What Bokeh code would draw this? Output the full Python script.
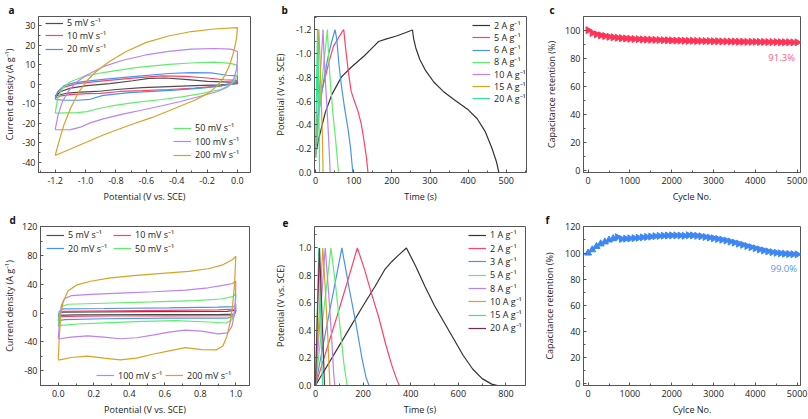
import numpy as np
from bokeh.plotting import figure
from bokeh.models import (Range1d, Legend, LegendItem, Label, SingleIntervalTicker,
                          PrintfTickFormatter)
from bokeh.layouts import row, column
from bokeh.embed import file_html
from bokeh.resources import INLINE

FONT = "Open Sans"
TXT = "#222222"
AX = "#555555"

GRAY = "#4d4d4d"; RED = "#ff4266"; BLUE = "#4a92f0"; GREEN = "#62ec6c"
PURPLE = "#b982f5"; GOLD = "#d8a224"; MINT = "#35e596"; MAROON = "#7a2a4c"

# ---------------- panel a : CV (negative electrode) ----------------
a_labels = ["5 mV s⁻¹", "10 mV s⁻¹", "20 mV s⁻¹", "50 mV s⁻¹", "100 mV s⁻¹", "200 mV s⁻¹"]
a_v_5 = [-1.2, -1.163, -1.099, -0.991, -0.841, -0.690, -0.583, -0.475, -0.346, -0.196, 0.0,
         0.0, -0.110, -0.282, -0.454, -0.626, -0.798, -0.927, -1.034, -1.120, -1.2]
a_i_5 = [-6.0, -3.7, -2.0, -0.7, 0.3, 1.8, 3.0, 3.2, 2.5, 1.5, 1.0,
         0.3, -0.3, -0.7, -1.2, -1.7, -2.7, -3.7, -4.0, -4.5, -6.0]
a_v_10 = [-1.2, -1.181, -1.142, -1.056, -0.884, -0.669, -0.497, -0.346, -0.196, -0.088, 0.0,
          0.0, -0.045, -0.131, -0.282, -0.454, -0.626, -0.776, -0.905, -0.991, -1.099, -1.163, -1.2]
a_i_10 = [-7.0, -3.7, -1.5, 0.3, 1.7, 3.3, 4.3, 4.0, 3.2, 2.3, 2.0,
          0.7, 0.0, -1.0, -2.0, -2.7, -3.3, -3.7, -4.7, -4.8, -5.3, -6.0, -7.0]
a_v_20 = [-1.2, -1.185, -1.142, -1.077, -0.991, -0.884, -0.669, -0.454, -0.303, -0.174, -0.067, 0.0,
          0.0, -0.024, -0.110, -0.239, -0.411, -0.561, -0.712, -0.884, -0.970, -1.056, -1.142, -1.2]
a_i_20 = [-7.7, -4.0, -0.7, 0.7, 1.6, 2.5, 4.0, 5.5, 6.0, 5.8, 4.6, 4.3,
          1.8, 0.7, -1.0, -2.0, -3.0, -3.7, -4.3, -5.7, -7.7, -8.2, -8.2, -7.7]
a_v_50 = [-1.2, -1.185, -1.153, -1.099, -1.013, -0.884, -0.669, -0.454, -0.282, -0.153, -0.045, 0.0,
          0.0, -0.013, -0.045, -0.110, -0.239, -0.368, -0.497, -0.669, -0.798, -0.905, -0.991, -1.056, -1.2]
a_i_50 = [-14.8, -7.7, -2.0, 1.3, 4.0, 6.0, 8.5, 10.2, 11.0, 11.3, 10.7, 9.7,
          5.2, 2.7, -0.3, -2.7, -4.8, -6.5, -7.8, -9.3, -10.7, -12.3, -14.0, -14.5, -14.8]
a_v_100 = [-1.2, -1.181, -1.153, -1.110, -1.056, -0.991, -0.884, -0.755, -0.604, -0.454, -0.303, -0.153, -0.045, 0.0,
           0.0, -0.006, -0.024, -0.067, -0.131, -0.239, -0.368, -0.497, -0.626, -0.755, -0.884, -0.970, -1.034, -1.099, -1.2]
a_i_100 = [-23.2, -15.7, -9.0, -3.2, 1.3, 4.7, 9.0, 12.3, 15.0, 16.8, 18.0, 18.3, 18.0, 16.8,
           12.7, 7.7, 2.7, -1.5, -3.7, -6.0, -8.7, -11.0, -13.2, -15.3, -17.7, -19.8, -22.0, -23.2, -23.3]
a_v_200 = [-1.2, -1.174, -1.142, -1.099, -1.045, -0.991, -0.927, -0.841, -0.733, -0.604, -0.454, -0.303, -0.153, 0.0,
           -0.006, -0.024, -0.049, -0.084, -0.131, -0.196, -0.282, -0.411, -0.561, -0.712, -0.884, -1.034, -1.2]
a_i_200 = [-36.5, -29.0, -20.7, -12.3, -4.0, 1.8, 6.8, 11.8, 16.8, 21.3, 24.7, 27.0, 28.3, 29.0,
           23.5, 16.8, 10.2, 4.3, -0.7, -4.8, -8.2, -12.3, -17.0, -21.0, -26.0, -31.0, -36.5]

# ---------------- panel b : GCD (negative electrode) ----------------
b_labels = ["2 A g⁻¹", "5 A g⁻¹", "6 A g⁻¹", "8 A g⁻¹", "10 A g⁻¹", "15 A g⁻¹", "20 A g⁻¹"]
b_t_2 = [0, 8.5, 25.4, 42.4, 67.8, 93.2, 127, 152.5, 165, 186, 212, 237, 250, 254,
         256.8, 262.7, 272.9, 288.1, 309.3, 334.7, 364.4, 398.3, 423.7, 444.9, 461.9, 474.6, 480.5]
b_e_2 = [-0.154, -0.289, -0.505, -0.654, -0.803, -0.884, -0.978, -1.059, -1.10, -1.122, -1.146, -1.176, -1.192, -1.197,
         -1.127, -1.046, -0.951, -0.857, -0.762, -0.681, -0.608, -0.532, -0.451, -0.343, -0.208, -0.086, 0.0]
b_t_5 = [0, 4.2, 12.7, 25.4, 38.1, 46.6, 59.3, 69.5, 73.7, 76.3, 80.5, 86.4, 93.2, 101.7, 111.9, 120.3, 127.1, 133.1, 137.3]
b_e_5 = [-0.181, -0.424, -0.641, -0.803, -0.965, -1.059, -1.127, -1.181, -1.2, -1.114, -0.992, -0.830, -0.681,
         -0.600, -0.505, -0.397, -0.262, -0.127, 0.0]
b_t_6 = [0, 8.5, 21.2, 33.9, 42.4, 50.8, 55.1, 61, 67.8, 76.3, 84.7, 91.5, 97.5]
b_e_6 = [-0.154, -0.505, -0.776, -0.992, -1.10, -1.2, -1.127, -0.911, -0.722, -0.532, -0.370, -0.208, 0.0]
b_t_8 = [0, 8.5, 21.2, 31, 33, 38, 45, 52, 60]
b_e_8 = [-0.127, -0.505, -0.911, -1.2, -1.046, -0.776, -0.505, -0.289, 0.0]
b_t_10 = [0, 6.8, 12.7, 19.5, 21.2, 25.4, 30.5, 35.6, 38.1]
b_e_10 = [-0.127, -0.505, -0.857, -1.2, -1.046, -0.776, -0.505, -0.181, 0.0]
b_t_15 = [0, 4.2, 8.5, 11, 14.4, 17.8, 19.5]
b_e_15 = [-0.127, -0.641, -1.2, -0.992, -0.641, -0.289, 0.0]
b_t_20 = [0, 2.5, 5, 7, 10.2]
b_e_20 = [-0.127, -0.776, -1.2, -0.911, 0.0]

# ---------------- panel c / f : cycling ----------------
cycles = [0, 100, 200, 300, 400, 500, 600, 700, 800, 900, 1000, 1100, 1200, 1300, 1400, 1500, 1600,
          1700, 1800, 1900, 2000, 2100, 2200, 2300, 2400, 2500, 2600, 2700, 2800, 2900, 3000, 3100,
          3200, 3300, 3400, 3500, 3600, 3700, 3800, 3900, 4000, 4100, 4200, 4300, 4400, 4500, 4600,
          4700, 4800, 4900, 5000]
c_retention = [100.0, 98.0, 97.0, 96.3, 95.8, 95.3, 94.9, 94.6, 94.3, 94.1, 93.9, 93.7, 93.6, 93.4,
               93.3, 93.2, 93.1, 93.0, 92.9, 92.8, 92.7, 92.6, 92.6, 92.5, 92.4, 92.4, 92.3, 92.3,
               92.2, 92.2, 92.1, 92.1, 92.0, 92.0, 91.9, 91.9, 91.8, 91.8, 91.7, 91.7, 91.7, 91.6,
               91.6, 91.5, 91.5, 91.5, 91.4, 91.4, 91.4, 91.3, 91.3]
f_retention = [100.0, 102.5, 105.0, 107.0, 108.5, 110.0, 111.0, 112.2, 110.8, 111.0, 111.2, 111.4,
               111.7, 112.0, 112.3, 112.6, 112.9, 113.1, 113.3, 113.4, 113.5, 113.5, 113.4, 113.2,
               113.6, 113.5, 113.2, 112.8, 112.3, 111.8, 111.3, 110.8, 110.2, 109.6, 108.8, 108.0,
               107.2, 106.3, 105.4, 104.5, 103.6, 102.8, 102.0, 101.3, 100.7, 100.2, 99.8, 99.5,
               99.3, 99.1, 99.0]
c_note = "91.3%"
f_note = "99.0%"

# ---------------- panel d : CV (positive electrode) ----------------
d_v_5 = [0.0, 0.01, 0.03, 0.5, 0.95, 1.0, 0.998, 0.99, 0.9, 0.5, 0.1, 0.0]
d_i_5 = [-3, 0.5, 1.5, 2.0, 2.5, 4.0, 1.0, -1.5, -2.2, -2.2, -2.5, -3]
d_v_10 = [0.0, 0.01, 0.03, 0.3, 0.6, 0.9, 0.99, 1.0, 0.998, 0.99, 0.96, 0.6, 0.3, 0.05, 0.0]
d_i_10 = [-5, 1, 2.5, 3.2, 3.8, 4.5, 5.5, 8, 2, -2, -3.5, -3.8, -4, -4.5, -5]
d_v_20 = [0, 0.0055, 0.0275, 0.257, 0.624, 0.899, 0.991, 1.0, 0.998, 0.987, 0.954, 0.624, 0.257, 0.037, 0]
d_i_20 = [-10.5, 2.3, 5.9, 6.4, 7.3, 8.2, 9.1, 12.3, 2.3, -4.6, -6.8, -6.8, -7.8, -9.1, -10.5]
d_v_50 = [0, 0.006, 0.018, 0.055, 0.257, 0.532, 0.771, 0.917, 0.982, 1.0, 0.998, 0.991, 0.978, 0.945,
          0.844, 0.661, 0.477, 0.294, 0.110, 0.018, 0]
d_i_50 = [-18.3, -2.3, 9.1, 12.3, 13.7, 15.5, 17.4, 19.6, 22.8, 26.9, 11.4, 0.0, -9.1, -13.7,
          -12.3, -10.5, -11.4, -13.2, -15.1, -16.9, -18.3]
d_v_100 = [0, 0.007, 0.018, 0.037, 0.073, 0.183, 0.349, 0.532, 0.716, 0.844, 0.936, 0.982, 1.0, 0.998,
           0.991, 0.978, 0.954, 0.899, 0.807, 0.716, 0.624, 0.532, 0.440, 0.349, 0.257, 0.165, 0.073, 0.009, 0]
d_i_100 = [-35.6, -11.4, 11.4, 20.5, 24.2, 26.0, 27.9, 29.7, 32.0, 35.2, 38.8, 41.1, 44.3, 20.5,
           -2.3, -18.3, -27.4, -28.8, -25.1, -23.7, -26.5, -30.6, -34.2, -35.6, -33.3, -31.5, -33.3, -35.6, -35.6]
d_v_200 = [0, 0.0055, 0.0147, 0.0275, 0.055, 0.101, 0.183, 0.294, 0.440, 0.587, 0.734, 0.844, 0.927, 0.982,
           1.0, 0.996, 0.991, 0.982, 0.969, 0.950, 0.927, 0.890, 0.807, 0.716, 0.624, 0.532, 0.440, 0.349,
           0.257, 0.165, 0.073, 0.009, 0]
d_i_200 = [-64.8, -34.2, -2.3, 16.0, 30.6, 38.8, 44.3, 48.9, 52.5, 55.3, 58.0, 61.6, 67.1, 74.4,
           79.0, 57.1, 34.2, 11.4, -11.4, -32.0, -45.7, -51.1, -50.7, -47.9, -52.5, -57.1, -62.6, -64.8,
           -62.6, -59.8, -61.6, -64.8, -64.8]

# ---------------- panel e : GCD (positive electrode) ----------------
e_labels = ["1 A g⁻¹", "2 A g⁻¹", "3 A g⁻¹", "5 A g⁻¹", "8 A g⁻¹", "10 A g⁻¹", "15 A g⁻¹", "20 A g⁻¹"]
e_t_1 = [0, 50, 100, 150, 200, 250, 290, 320, 350, 382, 420, 460, 500, 540, 580, 620, 660, 700, 740, 765]
e_e_1 = [0.0, 0.145, 0.29, 0.435, 0.58, 0.72, 0.84, 0.90, 0.95, 1.0, 0.87, 0.72, 0.58, 0.46, 0.34, 0.22,
         0.12, 0.05, 0.01, 0.0]
e_t_2 = [0, 45, 90, 135, 176, 205, 235, 265, 295, 320, 340, 352]
e_e_2 = [0.0, 0.25, 0.5, 0.76, 1.0, 0.85, 0.67, 0.5, 0.3, 0.15, 0.05, 0.0]
e_t_3 = [0, 55, 111, 140, 170, 195, 212, 225]
e_e_3 = [0.0, 0.5, 1.0, 0.72, 0.45, 0.2, 0.06, 0.0]
e_t_5 = [0, 32, 65, 85, 105, 120, 133]
e_e_5 = [0.0, 0.5, 1.0, 0.72, 0.4, 0.15, 0.0]
e_t_8 = [0, 20, 41, 55, 68, 76, 81]
e_e_8 = [0.0, 0.5, 1.0, 0.68, 0.35, 0.1, 0.0]
e_t_10 = [0, 15, 31, 42, 52, 58, 61]
e_e_10 = [0.0, 0.5, 1.0, 0.68, 0.35, 0.1, 0.0]
e_t_15 = [0, 7, 14, 19, 24, 28, 30]
e_e_15 = [0.0, 0.5, 1.0, 0.68, 0.35, 0.1, 0.0]
e_t_20 = [0, 8, 17, 24, 31, 36, 38]
e_e_20 = [0.0, 0.5, 1.0, 0.68, 0.35, 0.1, 0.0]


def make_fig(w, h, xr, yr, xlab, ylab, xint, yint, xfmt, yfmt, mbl, mbr, mbt, mbb,
             letter, letter_dx, ylab_standoff):
    p = figure(width=w, height=h, x_range=Range1d(*xr), y_range=Range1d(*yr),
               output_backend="svg", toolbar_location=None,
               min_border_left=mbl, min_border_right=mbr, min_border_top=mbt, min_border_bottom=mbb)
    p.grid.visible = False
    p.outline_line_color = AX
    p.outline_line_width = 1
    p.title.text = letter
    p.title.align = "left"
    p.title.offset = letter_dx
    p.title.standoff = 0
    p.title.text_font = FONT
    p.title.text_font_size = "10px"
    p.title.text_font_style = "bold"
    p.title.text_color = "#111111"
    specs = ((p.xaxis[0], xlab, xint, xfmt, 4, 3), (p.yaxis[0], ylab, yint, yfmt, 3, ylab_standoff))
    for ax, lab, interval, fmt, mls, als in specs:
        ax.ticker = SingleIntervalTicker(interval=interval, num_minor_ticks=2)
        ax.formatter = PrintfTickFormatter(format=fmt)
        ax.axis_label = lab
        ax.axis_label_text_font = FONT
        ax.axis_label_text_font_size = "9px"
        ax.axis_label_text_font_style = "normal"
        ax.axis_label_text_color = TXT
        ax.axis_label_standoff = als
        ax.major_label_text_font = FONT
        ax.major_label_text_font_size = "9px"
        ax.major_label_text_color = TXT
        ax.major_label_standoff = mls
        ax.major_tick_in = 3
        ax.major_tick_out = 0
        ax.minor_tick_in = 2
        ax.minor_tick_out = 0
        ax.axis_line_color = AX
        ax.major_tick_line_color = AX
        ax.minor_tick_line_color = AX
    return p


def add_leg(p, r, label, gx, cy):
    leg = Legend(items=[LegendItem(label=label, renderers=[r])], location=(gx, cy - 6),
                 orientation="vertical", padding=0, margin=0, spacing=0,
                 glyph_width=18, glyph_height=12, label_height=12, label_standoff=4,
                 label_text_font=FONT, label_text_font_size="9px", label_text_color=TXT,
                 border_line_alpha=0, background_fill_alpha=0)
    p.add_layout(leg)


H1, H2 = 205, 213
T1, B1 = 13, 33
T2, B2 = 21, 31
FH1 = H1 - T1 - B1
FH2 = H2 - T2 - B2
W1, W2, W3 = 270, 270, 268
pot = "Potential (V vs. SCE)"
cur = "Current density (A g⁻¹)"
ret = "Capacitance retention (%)"

# ---- a
pa = make_fig(W1, H1, (-1.31, 0.086), (-45.2, 34.7), pot, cur, 0.2, 10, "%.1f", "%d",
              33, 20, T1, B1, "a", -30, 3)
a_series = [(a_v_5, a_i_5, GRAY), (a_v_10, a_i_10, RED), (a_v_20, a_i_20, BLUE),
            (a_v_50, a_i_50, GREEN), (a_v_100, a_i_100, PURPLE), (a_v_200, a_i_200, GOLD)]
a_r = [pa.line(v, i, line_color=c, line_width=1.2) for v, i, c in a_series]
for k in range(3):
    add_leg(pa, a_r[k], a_labels[k], 7, FH1 - [10.3, 22.7, 36.3][k])
for k in range(3):
    add_leg(pa, a_r[k + 3], a_labels[k + 3], 135, [43.7, 30.3, 17.0][k])

# ---- b
pb = make_fig(W2, H1, (-3, 553), (0.0, -1.31), "Time (s)", pot, 100, 0.2, "%d", "%.1f",
              37, 14, T1, B1, "b", -33, 6)
b_series = [(b_t_2, b_e_2, "#333333"), (b_t_5, b_e_5, RED), (b_t_6, b_e_6, BLUE), (b_t_8, b_e_8, GREEN),
            (b_t_10, b_e_10, PURPLE), (b_t_15, b_e_15, GOLD), (b_t_20, b_e_20, MINT)]
b_r = [pb.line(t, e, line_color=c, line_width=1.2) for t, e, c in b_series]
for k in range(7):
    add_leg(pb, b_r[k], b_labels[k], 158, FH1 - (12.7 + 12.2 * k))

# ---- c
pc = make_fig(W3, H1, (-110, 5080), (-1.2, 109.7), "Cycle No.", ret, 1000, 20, "%d", "%d",
              43, 8, T1, B1, "c", -34, 4)
pc.line(cycles, c_retention, line_color="#ff3355", line_width=1.2)
pc.scatter(cycles, c_retention, marker="triangle", size=7, angle=-np.pi / 2,
           fill_color="#ff3355", line_color="#ff3355")
pc.add_layout(Label(x=4630, y=80.8, text=c_note, text_font=FONT, text_font_size="9.5px",
                    text_color="#ff5c80", text_align="center", text_baseline="middle"))

# ---- d
pd_ = make_fig(W1, H2, (-0.1, 1.077), (-100.5, 120.3), pot, cur, 0.2, 40, "%.1f", "%d",
               35, 21, T2, B2, "d", -31, 3)
d_series = [(d_v_5, d_i_5, GRAY), (d_v_10, d_i_10, RED), (d_v_20, d_i_20, BLUE),
            (d_v_50, d_i_50, GREEN), (d_v_100, d_i_100, PURPLE), (d_v_200, d_i_200, GOLD)]
d_r = [pd_.line(v, i, line_color=c, line_width=1.2) for v, i, c in d_series]
d_pos = [(6, FH2 - 11.3), (73, FH2 - 11.3), (6, FH2 - 24.7), (73, FH2 - 24.7), (56, 9.3), (125, 9.3)]
for k in range(6):
    add_leg(pd_, d_r[k], a_labels[k], d_pos[k][0], d_pos[k][1])

# ---- e
pe = make_fig(W2, H2, (-4, 882), (0.0, 1.156), "Time (s)", pot, 200, 0.2, "%d", "%.1f",
              38, 15, T2, B2, "e", -32, 9)
e_series = [(e_t_1, e_e_1, "#333333"), (e_t_2, e_e_2, RED), (e_t_3, e_e_3, BLUE), (e_t_5, e_e_5, GREEN),
            (e_t_8, e_e_8, PURPLE), (e_t_10, e_e_10, GOLD), (e_t_15, e_e_15, MINT), (e_t_20, e_e_20, MAROON)]
e_r = [pe.line(t, e, line_color=c, line_width=1.2) for t, e, c in e_series]
for k in range(8):
    add_leg(pe, e_r[k], e_labels[k], 154, FH2 - (11.3 + 13.3 * k))

# ---- f
pf = make_fig(W3, H2, (-110, 5080), (-1.3, 120.3), "Cylce No.", ret, 1000, 20, "%d", "%d",
              43, 8, T2, B2, "f", -38, 6)
f_angles = [0.0 if k < 7 else -np.pi / 2 for k in range(len(cycles))]
pf.line(cycles, f_retention, line_color="#3d87f5", line_width=1.2)
pf.scatter(cycles, f_retention, marker="triangle", size=7, angle=f_angles,
           fill_color="#3d87f5", line_color="#3d87f5")
pf.add_layout(Label(x=4680, y=88.3, text=f_note, text_font=FONT, text_font_size="9.5px",
                    text_color="#5599ee", text_align="center", text_baseline="middle"))

layout = column(row(pa, pb, pc), row(pd_, pe, pf))
open("out.html", "w").write(file_html(layout, INLINE))
